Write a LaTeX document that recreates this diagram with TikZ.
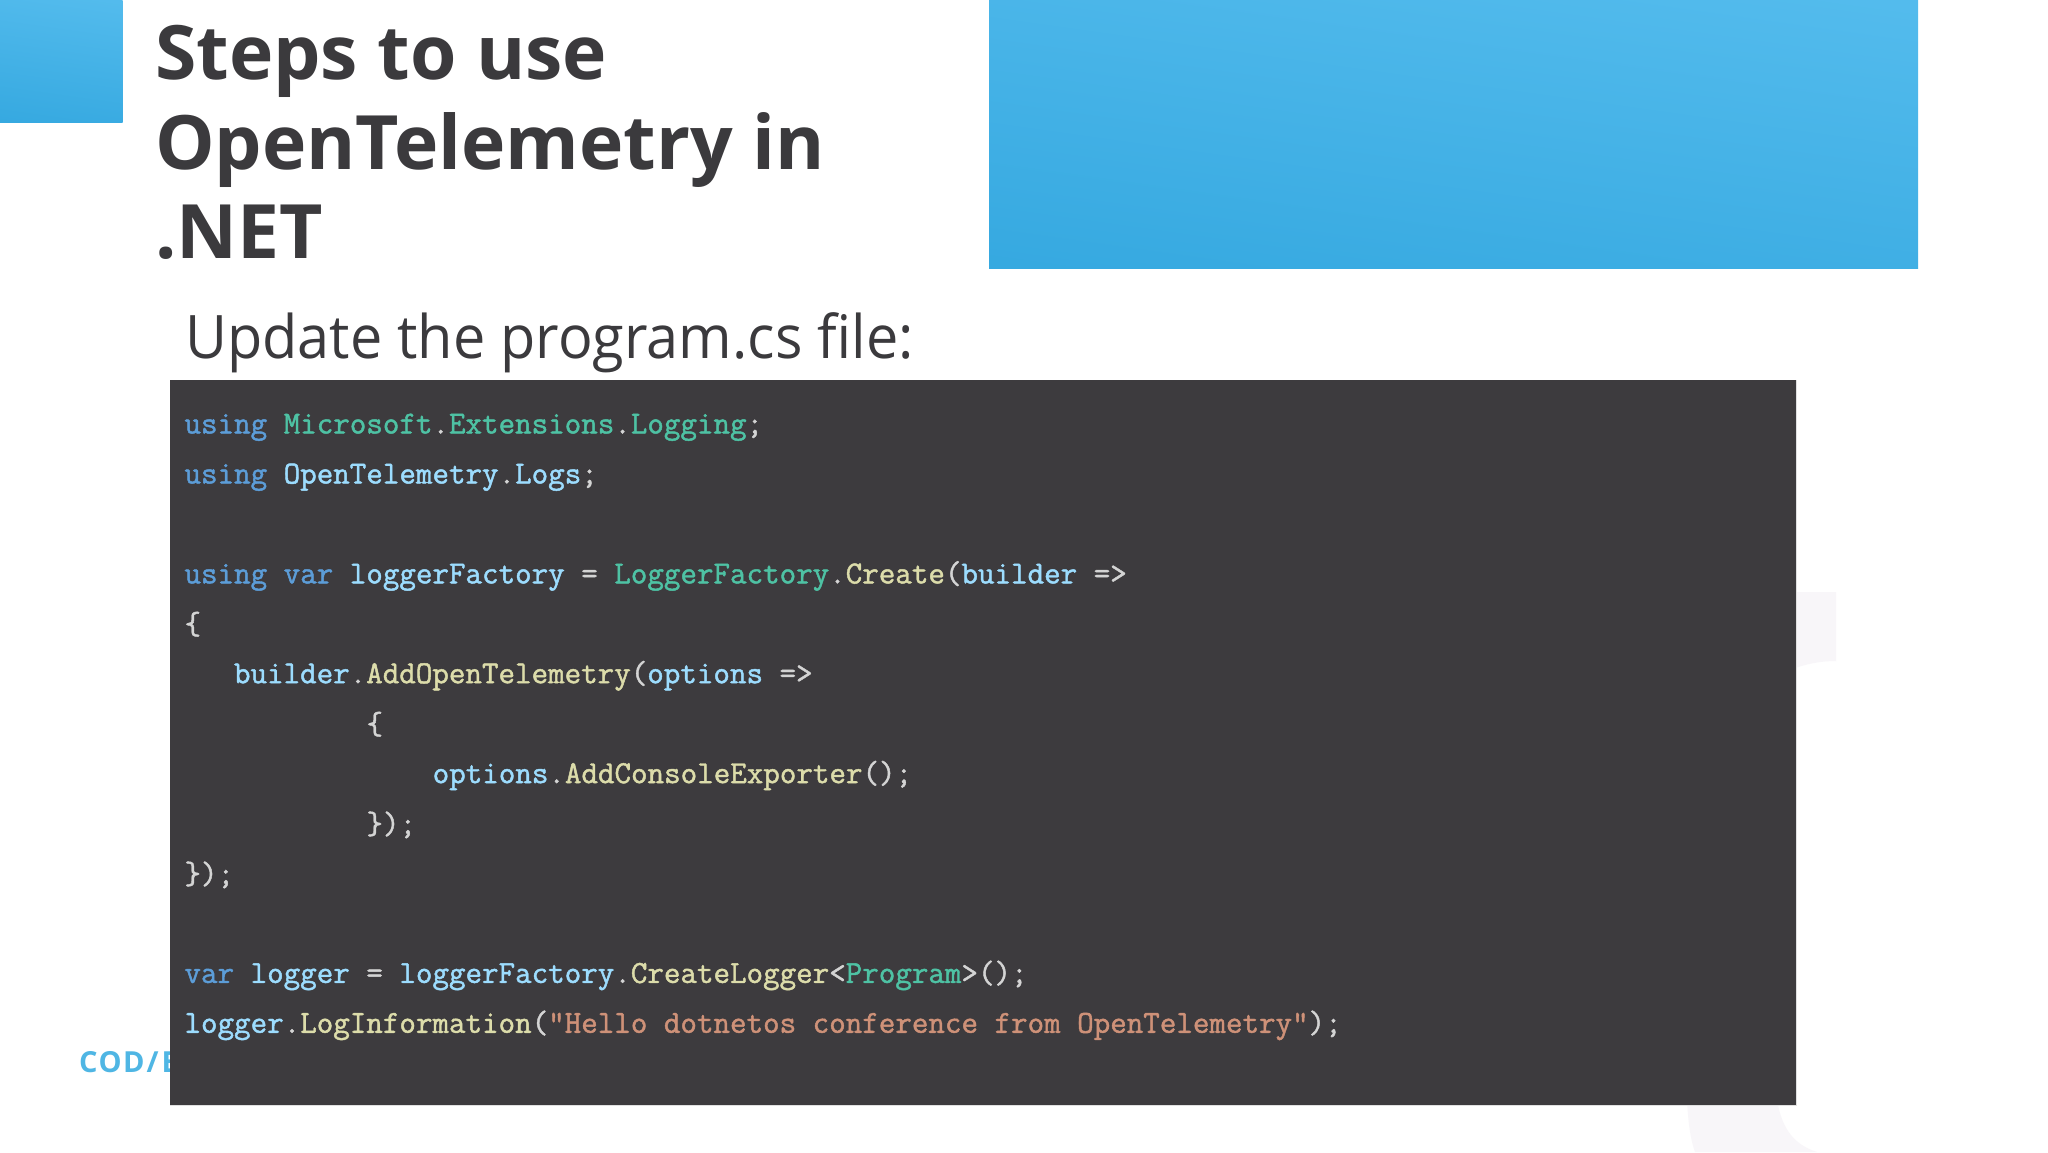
\documentclass[tikz,border=0pt]{standalone}
\usepackage{fontspec}
\setmainfont{Open Sans}
\newfontfamily\codefont{Latin Modern Mono}[FakeBold=1.4]
\newfontfamily\subfont{Open Sans}[FakeStretch=0.96]
\newfontfamily\footfont{Open Sans}[LetterSpace=5]
\usetikzlibrary{calc}
\definecolor{ink}{HTML}{3B3A3D}
\definecolor{panelbg}{HTML}{3D3B3E}
\definecolor{blueT}{HTML}{56BDEE}
\definecolor{blueB}{HTML}{33A7DF}
\definecolor{ghost}{HTML}{F8F6F9}
\definecolor{footc}{HTML}{4FB6E4}
\definecolor{kw}{HTML}{5C9DD8}
\definecolor{cls}{HTML}{4EC2A4}
\definecolor{fn}{HTML}{DCDCAA}
\definecolor{vr}{HTML}{9CDCFE}
\definecolor{st}{HTML}{CE9178}
\definecolor{pn}{HTML}{D4D4D4}
\newcommand{\K}[1]{\textcolor{kw}{#1}}
\newcommand{\C}[1]{\textcolor{cls}{#1}}
\newcommand{\F}[1]{\textcolor{fn}{#1}}
\newcommand{\V}[1]{\textcolor{vr}{#1}}
\newcommand{\Sg}[1]{\textcolor{st}{#1}}
\tikzset{
  codeline/.style={anchor=base west,inner sep=0pt,outer sep=0pt,font=\codefont\fontsize{32.1}{32.1}\selectfont,text=pn},
  titleline/.style={anchor=base west,inner sep=0pt,text=ink,font=\fontsize{75}{75}\selectfont\bfseries},
  band/.style={top color=blueT,bottom color=blueB,draw=none,shading angle=-8}
}
\begin{document}
\begin{tikzpicture}[x=1pt,y=-1pt]
\useasboundingbox (0,0) rectangle (2048,1152);
\fill[white] (0,0) rectangle (2048,1152);
% pale watermark
\fill[ghost] (1790,592) -- (1836,592) -- (1836,661) .. controls (1820,661) and (1805,664) .. (1790,670) -- cycle;
\fill[ghost] (1687,1100) .. controls (1688,1120) and (1690,1138) .. (1695,1152) -- (1817,1152) .. controls (1795,1145) and (1782,1130) .. (1777,1100) -- cycle;
% blue bands
\begin{scope}
\clip (0,0) rectangle (122.5,122.5);
\path[band] (-20,-20) rectangle (142.5,142.5);
\end{scope}
\begin{scope}
\clip (989,0) rectangle (1918,268.5);
\path[band] (969,-60) rectangle (1938,328.5);
\end{scope}
% titles
\node[titleline] (t1) at (155,79) {Steps to use};
\node[titleline] (t2) at (155,169) {OpenTelemetry in};
\node[titleline] (t3) at (155,258) {.NET};
\node[anchor=base west,inner sep=0pt,text=ink,font=\subfont\fontsize{60}{60}\selectfont] (sub) at (185,358) {Update the program.cs file:};
% footer text, covered by the panel
\node[anchor=base west,inner sep=0pt,text=footc,font=\footfont\fontsize{29}{29}\selectfont\bfseries] (foot) at (79,1072) {COD\hspace{2pt}/\hspace{3pt}E};
% code panel
\node[anchor=north west,inner sep=0pt,minimum width=1626pt,minimum height=725pt,fill=panelbg] (panel) at (170,380) {};
\draw[black!12,line width=1pt] (panel.north east) -- (panel.south east) -- (panel.south west);
\node[codeline] (l0) at (184.5,433.5) {\K{using} \C{Microsoft}.\C{Extensions}.\C{Logging};};
\node[codeline] (l1) at (184.5,483.5) {\K{using} \V{OpenTelemetry}.\V{Logs};};
\node[codeline] (l3) at (184.5,583.4) {\K{using} \K{var} \V{loggerFactory} = \C{LoggerFactory}.\F{Create}(\V{builder} =>};
\node[codeline] (l4) at (184.5,634) {\{};
\node[codeline] (l5) at (234,683.2) {\V{builder}.\F{AddOpenTelemetry}(\V{options} =>};
\node[codeline] (l6) at (366.5,734) {\{};
\node[codeline] (l7) at (432.7,783.1) {\V{options}.\F{AddConsoleExporter}();};
\node[codeline] (l8) at (366.5,833.8) {\});};
\node[codeline] (l9) at (184.5,883.8) {\});};
\node[codeline] (l11) at (184.5,982.9) {\K{var} \V{logger} = \V{loggerFactory}.\F{CreateLogger}<\C{Program}>();};
\node[codeline] (l12) at (184.5,1032.8) {\V{logger}.\F{LogInformation}(\Sg{"Hello dotnetos conference from OpenTelemetry"});};
\end{tikzpicture}
\end{document}
